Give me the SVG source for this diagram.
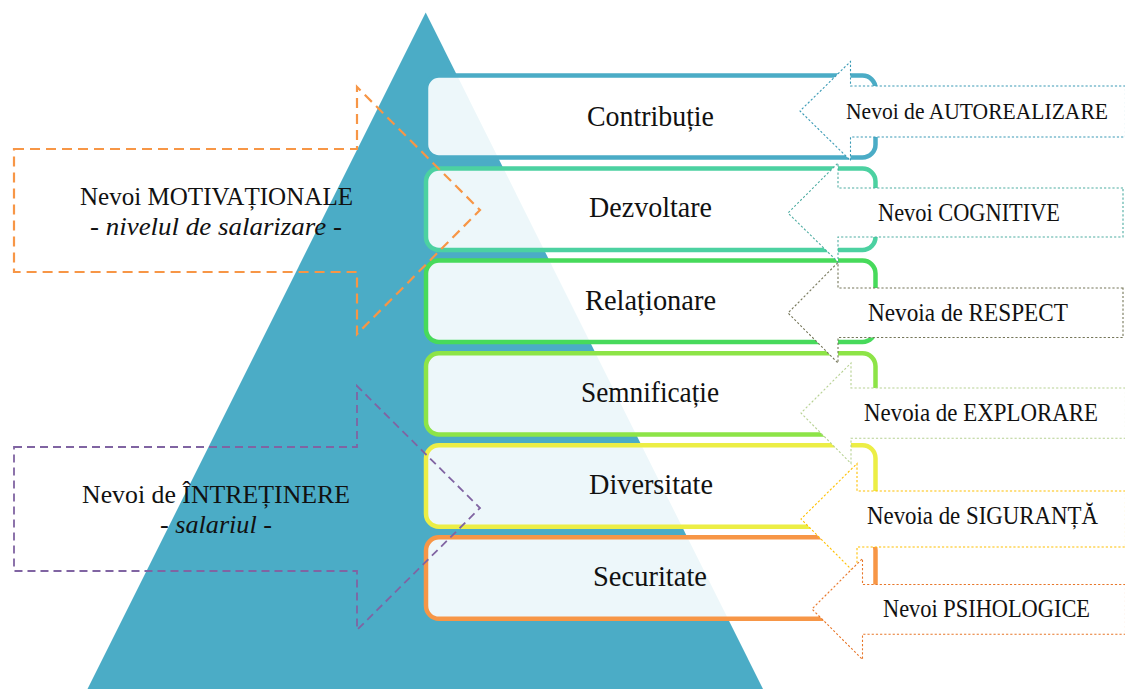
<svg xmlns="http://www.w3.org/2000/svg" width="1125" height="689" viewBox="0 0 1125 689">
  <style>
    text { font-family: "Liberation Serif", "Times New Roman", serif; fill: #111; }
    .lvl { font-size: 28.5px; text-anchor: start; }
    .side { font-size: 26px; text-anchor: start; }
    .need { font-size: 25.5px; text-anchor: start; }
    .need.long { font-size: 22.5px; }
    .it { font-style: italic; }
    .box { fill: #ffffff; fill-opacity: 0.9; stroke-width: 4.5; }
    .big { fill: none; }
    .tag { fill: #ffffff; stroke-width: 1.1; stroke-dasharray: 2.2 2; }
  </style>

  <!-- background pyramid -->
  <polygon id="pyramid" points="425.7,12.5 763,689 87.5,689" fill="#4BACC6"/>

  <!-- level boxes -->
  <g id="level-contributie">
    <rect class="box" x="426" y="75.5" width="449.5" height="82" rx="13" stroke="#4BACC6"/>
    <text class="lvl" x="587" y="126" textLength="127" lengthAdjust="spacingAndGlyphs">Contribuție</text>
  </g>
  <g id="level-dezvoltare">
    <rect class="box" x="426" y="168.5" width="449.5" height="81.5" rx="13" stroke="#4CD1A1"/>
    <text class="lvl" x="589" y="217" textLength="123" lengthAdjust="spacingAndGlyphs">Dezvoltare</text>
  </g>
  <g id="level-relationare">
    <rect class="box" x="426" y="260.5" width="449.5" height="81.5" rx="13" stroke="#47DA5B"/>
    <text class="lvl" x="585" y="310" textLength="131" lengthAdjust="spacingAndGlyphs">Relaționare</text>
  </g>
  <g id="level-semnificatie">
    <rect class="box" x="426" y="353.3" width="449.5" height="81.2" rx="13" stroke="#8DE447"/>
    <text class="lvl" x="581" y="402" textLength="138" lengthAdjust="spacingAndGlyphs">Semnificație</text>
  </g>
  <g id="level-diversitate">
    <rect class="box" x="426" y="445.2" width="449.5" height="81.5" rx="13" stroke="#ECEE45"/>
    <text class="lvl" x="589" y="494" textLength="124" lengthAdjust="spacingAndGlyphs">Diversitate</text>
  </g>
  <g id="level-securitate">
    <rect class="box" x="426" y="537.3" width="449.5" height="81.5" rx="13" stroke="#F79646"/>
    <text class="lvl" x="593" y="586" textLength="114" lengthAdjust="spacingAndGlyphs">Securitate</text>
  </g>

  <!-- left grouping arrows -->
  <g id="connectors">
    <polygon id="arrow-motivationale" class="big" points="14,149 357,149 357,87 480,210 357,334 357,272 14,272" stroke="#F79646" stroke-width="2.2" stroke-dasharray="10 6"/>
    <polygon id="arrow-intretinere" class="big" points="14,447 357,447 357,386 480,508 357,630 357,571 14,571" stroke="#8064A2" stroke-width="1.8" stroke-dasharray="8 5"/>
  </g>

  <g id="motivationale">
    <text class="side" x="80" y="205" textLength="273" lengthAdjust="spacingAndGlyphs">Nevoi MOTIVAȚIONALE</text>
    <text class="side" x="90" y="235" textLength="252" lengthAdjust="spacingAndGlyphs">- <tspan class="it">nivelul de salarizare</tspan> -</text>
  </g>
  <g id="intretinere">
    <text class="side" x="82" y="503" textLength="268" lengthAdjust="spacingAndGlyphs">Nevoi de ÎNTREȚINERE</text>
    <text class="side" x="160" y="533" textLength="112" lengthAdjust="spacingAndGlyphs">- <tspan class="it">salariul</tspan> -</text>
  </g>

  <!-- need labels pointing at the levels -->
  <g id="need-autorealizare">
    <polygon class="tag" points="1125.5,86 850.5,86 850.5,61.5 800,111 850.5,160.5 850.5,137 1125.5,137" stroke="#3A9AB5"/>
    <text class="need long" x="846" y="119.3" textLength="262" lengthAdjust="spacingAndGlyphs">Nevoi de AUTOREALIZARE</text>
  </g>
  <g id="need-cognitive">
    <polygon class="tag" points="1123,188 838,188 838,163 788,213 838,262 838,237 1123,237" stroke="#4FADA2"/>
    <text class="need" x="878" y="220.7" textLength="182" lengthAdjust="spacingAndGlyphs">Nevoi COGNITIVE</text>
  </g>
  <g id="need-respect">
    <polygon class="tag" points="1123,288 838,288 838,262.5 788,313 838,363 838,337.5 1123,337.5" stroke="#76775A"/>
    <text class="need" x="868" y="320.7" textLength="200" lengthAdjust="spacingAndGlyphs">Nevoia de RESPECT</text>
  </g>
  <g id="need-explorare">
    <polygon class="tag" points="1125.5,388 851,388 851,363 801,413 851,463.5 851,438.3 1125.5,438.3" stroke="#B7D193"/>
    <text class="need" x="864" y="421" textLength="234" lengthAdjust="spacingAndGlyphs">Nevoia de EXPLORARE</text>
  </g>
  <g id="need-siguranta">
    <polygon class="tag" points="1125.5,491 857,491 857,463.5 801,519 857,575 857,547 1125.5,547" stroke="#FFC000"/>
    <text class="need" x="867" y="524" textLength="231" lengthAdjust="spacingAndGlyphs">Nevoia de SIGURANȚĂ</text>
  </g>
  <g id="need-psihologice">
    <polygon class="tag" points="1125.5,584.5 862.5,584.5 862.5,558.5 812,609 862.5,659.5 862.5,634.3 1125.5,634.3" stroke="#E8772A"/>
    <text class="need" x="883" y="616.7" textLength="207" lengthAdjust="spacingAndGlyphs">Nevoi PSIHOLOGICE</text>
  </g>
</svg>
